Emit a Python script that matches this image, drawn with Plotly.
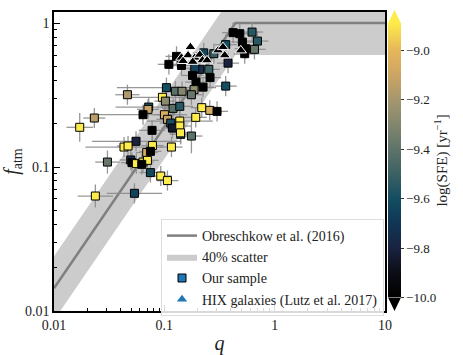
import numpy as np
import plotly.graph_objects as go

# model line and 40% scatter band (vertices in log-log)
q_model = [0.01, 0.441, 10]
f_model = [0.0144, 1.0, 1.0]
f_band_lo = [0.00864, 0.6, 0.6]
f_band_hi = [0.024, 1.667, 1.667]

# our sample
q_sample = [0.110, 0.129, 0.143, 0.2275, 0.281, 0.360, 0.420, 0.483, 0.624, 0.510,
            0.698, 0.656, 0.547, 0.535, 0.378, 0.360, 0.253, 0.2095, 0.1887, 0.180,
            0.1937, 0.2244, 0.2596, 0.1045, 0.126, 0.1447, 0.186, 0.176, 0.0463, 0.0961,
            0.1023, 0.2183, 0.258, 0.3004, 0.0722, 0.0711, 0.120, 0.138, 0.0641, 0.1002,
            0.1067, 0.1926, 0.138, 0.1143, 0.1184, 0.138, 0.1408, 0.1402, 0.0774, 0.176,
            0.0232, 0.0171, 0.0554, 0.0431, 0.0469, 0.078, 0.116, 0.0692, 0.0748, 0.0305,
            0.0496, 0.0509, 0.0558, 0.0641, 0.0703, 0.0624, 0.0748, 0.0928, 0.1067, 0.0237,
            0.0536]
f_sample = [0.517, 0.587, 0.508, 0.621, 0.613, 0.708, 0.858, 0.844, 0.866, 0.738,
            0.750, 0.657, 0.664, 0.613, 0.527, 0.365, 0.477, 0.477, 0.485, 0.433,
            0.389, 0.359, 0.418, 0.356, 0.336, 0.336, 0.345, 0.318, 0.318, 0.305,
            0.287, 0.2585, 0.2476, 0.2436, 0.261, 0.2516, 0.2557, 0.264, 0.231, 0.231,
            0.2145, 0.2214, 0.2087, 0.202, 0.1866, 0.1927, 0.1687, 0.1728, 0.1799, 0.1642,
            0.219, 0.1888, 0.151, 0.1377, 0.140, 0.141, 0.1377, 0.126, 0.1285, 0.1083,
            0.112, 0.1073, 0.1056, 0.1083, 0.1113, 0.1044, 0.0915, 0.0866, 0.0805, 0.0629,
            0.0657]
sfe_sample = [-10.1, -10.1, -10.1, -9.62, -9.52, -9.6, -10.1, -10.1, -9.55, -10.1,
              -9.55, -9.38, -10.1, -10.1, -9.8, -9.6, -9.5, -9.75, -9.65, -10.1,
              -10.05, -10.1, -10.1, -9.6, -9.42, -9.3, -9.25, -9.38, -9.18, -8.85,
              -9.28, -8.85, -9.05, -10.1, -9.58, -9.12, -9.42, -9.55, -10.1, -9.05,
              -9.12, -8.85, -8.85, -9.6, -9.85, -8.85, -9.6, -8.85, -10.1, -9.4,
              -9.15, -8.85, -9.8, -8.85, -8.85, -8.85, -8.85, -9.05, -10.1, -9.38,
              -9.75, -10.1, -8.85, -8.85, -8.85, -10.1, -9.62, -8.85, -8.85, -8.85,
              -9.65]
# errors in dex
qerr_dex = [0.1, 0.1, 0.1, 0.1, 0.1, 0.1, 0.1, 0.1, 0.1, 0.1,
            0.1, 0.1, 0.1, 0.1, 0.1, 0.1, 0.1, 0.1, 0.1, 0.1,
            0.1, 0.1, 0.1, 0.45, 0.1, 0.1, 0.1, 0.1, 0.11, 0.3,
            0.1, 0.1, 0.1, 0.1, 0.3, 0.1, 0.1, 0.12, 0.4, 0.1,
            0.1, 0.1, 0.3, 0.1, 0.1, 0.1, 0.1, 0.1, 0.12, 0.1,
            0.1, 0.12, 0.4, 0.35, 0.1, 0.1, 0.1, 0.1, 0.1, 0.11,
            0.1, 0.1, 0.1, 0.1, 0.1, 0.1, 0.1, 0.1, 0.1, 0.16,
            0.25]
ferr_dex = [0.07] * 49 + [0.12] + [0.07, 0.1, 0.07, 0.07, 0.07, 0.07, 0.07, 0.07, 0.07, 0.08,
                                   0.07, 0.07, 0.07, 0.07, 0.07, 0.07, 0.07, 0.07, 0.07, 0.08,
                                   0.07]

# HIX galaxies (Lutz et al. 2017)
q_hix = [0.1724, 0.143, 0.164, 0.1887, 0.2095, 0.2215, 0.2438, 0.1477, 0.181, 0.3068,
         0.340, 0.3528, 0.493]
f_hix = [0.681, 0.575, 0.597, 0.575, 0.603, 0.551, 0.551, 0.545, 0.538, 0.646,
         0.681, 0.597, 0.646]
sfe_hix = [-10.3] * 13

cscale = [[0.0, "rgb(0,0,0)"], [0.09, "rgb(12,14,22)"], [0.18, "rgb(25,35,65)"],
          [0.27, "rgb(15,55,85)"], [0.36, "rgb(20,78,98)"], [0.45, "rgb(60,97,100)"],
          [0.54, "rgb(95,115,105)"], [0.63, "rgb(130,135,110)"], [0.72, "rgb(165,150,110)"],
          [0.81, "rgb(205,165,100)"], [0.90, "rgb(230,182,90)"], [1.0, "rgb(253,236,75)"]]
CMIN, CMAX = -10.0, -8.89

W, H = 463, 355
L, R, T, B = 54, 78, 12, 44
PW, PH = W - L - R, H - T - B


def px(xp):
    return (xp - L) / PW


def py(yp):
    return (H - B - yp) / PH


qs = np.array(q_sample)
fs = np.array(f_sample)
qe = np.array(qerr_dex)
fe = np.array(ferr_dex)

fig = go.Figure()

fig.add_trace(go.Scatter(x=q_model, y=f_model, mode="lines",
                         line=dict(color="rgb(128,128,128)", width=2.5),
                         name="Obreschkow et al. (2016)"))
fig.add_trace(go.Scatter(x=q_model, y=f_band_lo, mode="lines", line=dict(width=0),
                         showlegend=False, hoverinfo="skip"))
fig.add_trace(go.Scatter(x=q_model, y=f_band_hi, mode="lines", line=dict(width=0),
                         fill="tonexty", fillcolor="rgb(204,204,204)",
                         name="40% scatter"))
# put the model line back on top of the band
fig.add_trace(go.Scatter(x=q_model, y=f_model, mode="lines",
                         line=dict(color="rgb(128,128,128)", width=2.5),
                         showlegend=False, hoverinfo="skip"))

fig.add_trace(go.Scatter(
    x=q_sample, y=f_sample, mode="markers", showlegend=False,
    error_x=dict(type="data", array=qs * (10 ** qe - 1), arrayminus=qs * (1 - 10 ** -qe),
                 color="rgba(140,140,140,0.9)", thickness=1.3, width=0),
    error_y=dict(type="data", array=fs * (10 ** fe - 1), arrayminus=fs * (1 - 10 ** -fe),
                 color="rgba(140,140,140,0.9)", thickness=1.3, width=0),
    marker=dict(symbol="square", size=8, color=sfe_sample, coloraxis="coloraxis",
                line=dict(color="black", width=1))))

fig.add_trace(go.Scatter(
    x=q_hix, y=f_hix, mode="markers", showlegend=False,
    marker=dict(symbol="triangle-up", size=10, color=sfe_hix, coloraxis="coloraxis",
                line=dict(color="white", width=1))))

# legend-only entries
fig.add_trace(go.Scatter(x=[None], y=[None], mode="markers", name="Our sample",
                         marker=dict(symbol="square", size=8, color="#1f77b4",
                                     line=dict(color="black", width=1))))
fig.add_trace(go.Scatter(x=[None], y=[None], mode="markers", name="HIX galaxies (Lutz et al. 2017)",
                         marker=dict(symbol="triangle-up", size=9, color="#1f77b4",
                                     line=dict(width=0))))

minor_x = [m * 10.0 ** e for e in (-2, -1, 0) for m in range(2, 10)]
minor_y = [m * 10.0 ** e for e in (-2, -1, 0) for m in range(2, 10)]

font = "Liberation Serif"
axis_common = dict(type="log", showline=True, linecolor="black", linewidth=1.5, mirror=True,
                   ticks="inside", ticklen=6, tickwidth=1, tickcolor="black",
                   showgrid=False, zeroline=False,
                   tickfont=dict(family=font, size=14, color="#222"))

fig.update_xaxes(range=[-2, 1], tickvals=[0.01, 0.1, 1, 10], ticktext=["0.01", "0.1", "1", "10"],
                 minor=dict(tickvals=minor_x, ticks="inside", ticklen=3, tickcolor="black"),
                 title=dict(text="<i>q</i>", font=dict(family=font, size=20, color="#222"),
                            standoff=6),
                 **axis_common)
fig.update_yaxes(range=[-2, 0.077], tickvals=[0.01, 0.1, 1], ticktext=["0.01", "0.1", "1"],
                 minor=dict(tickvals=minor_y, ticks="inside", ticklen=3, tickcolor="black"),
                 title=dict(text="<i>f</i><sub>atm</sub>", font=dict(family=font, size=20, color="#222"),
                            standoff=4),
                 **axis_common)

# colorbar extend triangles
cb_left, cb_right = 388, 401
cb_top, cb_bot = 23.3, 297.5
cx = (cb_left + cb_right) / 2
tri_top = "M {} {} L {} {} L {} {} Z".format(px(cb_left), py(cb_top), px(cb_right), py(cb_top),
                                            px(cx), py(10))
tri_bot = "M {} {} L {} {} L {} {} Z".format(px(cb_left), py(cb_bot), px(cb_right), py(cb_bot),
                                            px(cx), py(311))

fig.update_layout(
    width=W, height=H,
    margin=dict(l=L, r=R, t=T, b=B, autoexpand=False),
    plot_bgcolor="white", paper_bgcolor="white",
    font=dict(family=font, size=13, color="#222"),
    coloraxis=dict(
        colorscale=cscale, cmin=CMIN, cmax=CMAX,
        colorbar=dict(
            thickness=cb_right - cb_left, thicknessmode="pixels",
            len=(cb_bot - cb_top) / PH, lenmode="fraction",
            x=px(cb_left), xanchor="left", xpad=0,
            y=py((cb_top + cb_bot) / 2), yanchor="middle", ypad=0,
            outlinewidth=0,
            tickvals=[-10.0, -9.8, -9.6, -9.4, -9.2, -9.0],
            ticktext=["\u221210.0", "\u22129.8", "\u22129.6", "\u22129.4", "\u22129.2", "\u22129.0"],
            ticks="outside", ticklen=3, tickcolor="#333",
            tickfont=dict(family=font, size=13, color="#222"),
            title=dict(text="log(SFE) [yr<sup>\u22121</sup>]", side="right",
                       font=dict(family=font, size=15, color="#222")),
        ),
    ),
    shapes=[
        dict(type="path", path=tri_top, xref="paper", yref="paper",
             fillcolor="rgb(253,236,75)", line=dict(width=0)),
        dict(type="path", path=tri_bot, xref="paper", yref="paper",
             fillcolor="black", line=dict(width=0)),
    ],
    legend=dict(x=px(161), y=py(219), xanchor="left", yanchor="top",
                traceorder="normal",
                bgcolor="rgba(255,255,255,0.85)", bordercolor="#ddd", borderwidth=1,
                font=dict(family=font, size=14, color="#222"),
                tracegroupgap=0, itemwidth=30),
)

# page margin would shift the fixed-size figure, so drop it
fig.write_html("out.html", config={"displayModeBar": False},
               post_script="document.body.style.margin='0';document.body.style.overflow='hidden';")
